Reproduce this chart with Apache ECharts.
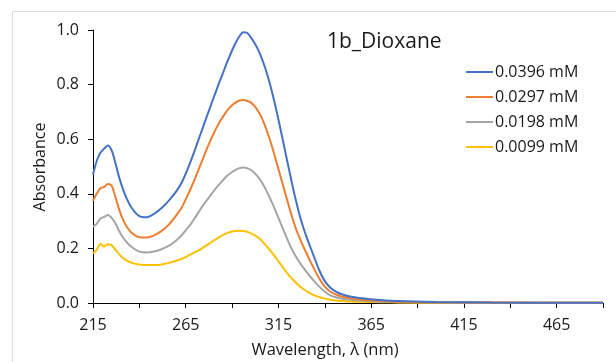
<!DOCTYPE html>
<html>
<head>
<meta charset="utf-8">
<script src="https://cdn.jsdelivr.net/npm/echarts@6/dist/echarts.min.js"></script>
<style>
html,body{margin:0;padding:0;background:#fff;}
#chart{width:616px;height:362px;}
</style>
</head>
<body>
<div id="chart"></div>
<script>
var chartTitle = '1b_Dioxane';
var xAxisName = 'Wavelength, \u03bb (nm)';
var yAxisName = 'Absorbance';
var seriesNames = ['0.0396 mM', '0.0297 mM', '0.0198 mM', '0.0099 mM'];

var wavelengths = [215,217,219,221,223,225,227,229,231,233,
  236,240,244,248,252,256,260,263,266,
  268,270,272,274,276,278,280,282,284,286,288,290,292,294,296,298,300,302,304,306,308,310,312,314,316,318,320,322,324,326,328,330,332,334,
  337,340,343,346,350,355,362,370,380,400,430,460,490];

var abs0396 = [0.47,0.52,0.55,0.565,0.577,0.56,0.515,0.463,0.42,0.385,
  0.347,0.318,0.314,0.327,0.348,0.376,0.41,0.443,0.49,
  0.525,0.562,0.6,0.638,0.676,0.714,0.751,0.788,0.824,0.859,0.893,0.925,0.954,0.977,0.992,0.99,0.974,0.953,0.928,0.896,0.858,0.812,0.76,0.702,0.64,0.576,0.511,0.448,0.387,0.332,0.285,0.245,0.208,0.173,
  0.12,0.08,0.056,0.042,0.03,0.022,0.016,0.011,0.007,0.004,0.002,0.001,0.001];
var abs0297 = [0.375,0.40,0.42,0.425,0.436,0.43,0.39,0.345,0.308,0.282,
  0.256,0.241,0.24,0.248,0.264,0.288,0.322,0.352,0.394,
  0.424,0.456,0.49,0.524,0.558,0.59,0.62,0.647,0.671,0.692,0.71,0.724,0.735,0.742,0.744,0.741,0.735,0.722,0.703,0.678,0.645,0.606,0.562,0.515,0.466,0.418,0.37,0.323,0.28,0.245,0.213,0.184,0.155,0.128,
  0.09,0.06,0.041,0.031,0.022,0.016,0.011,0.008,0.005,0.003,0.002,0.001,0.001];
var abs0198 = [0.28,0.29,0.31,0.315,0.322,0.312,0.293,0.265,0.242,0.224,
  0.204,0.188,0.185,0.189,0.197,0.21,0.23,0.25,0.275,
  0.292,0.312,0.333,0.354,0.373,0.391,0.409,0.426,0.442,0.457,0.47,0.48,0.488,0.494,0.496,0.494,0.488,0.477,0.462,0.442,0.418,0.39,0.36,0.328,0.295,0.262,0.23,0.2,0.175,0.153,0.133,0.115,0.098,0.082,
  0.06,0.041,0.028,0.021,0.015,0.011,0.008,0.005,0.003,0.002,0.001,0.001,0.001];
var abs0099 = [0.182,0.195,0.216,0.207,0.215,0.212,0.196,0.18,0.166,0.156,
  0.147,0.141,0.139,0.139,0.141,0.147,0.155,0.162,0.172,
  0.179,0.186,0.193,0.201,0.21,0.219,0.228,0.237,0.245,0.252,0.258,0.262,0.264,0.265,0.264,0.261,0.256,0.249,0.24,0.228,0.213,0.197,0.18,0.162,0.143,0.125,0.107,0.091,0.077,0.064,0.053,0.044,0.036,0.029,
  0.022,0.016,0.012,0.009,0.007,0.005,0.004,0.003,0.002,0.001,0.001,0.001,0.001];

var seriesValues = [abs0396, abs0297, abs0198, abs0099];
var colors = ['#4472C4', '#ED7D31', '#A5A5A5', '#FFC000'];
var FONT = '"Open Sans", sans-serif';
var TXT = '#1a1a1a';

function pairs(vals) {
  return wavelengths.map(function (w, i) { return [w, vals[i]]; });
}

var chart = echarts.init(document.getElementById('chart'), null, {renderer: 'canvas'});
chart.setOption({
  animation: false,
  backgroundColor: '#fff',
  title: {
    text: chartTitle,
    left: 322, top: 27,
    textStyle: {fontFamily: FONT, fontSize: 21, fontWeight: 'normal', color: TXT}
  },
  legend: {
    orient: 'vertical',
    left: 466, top: 64,
    padding: 0,
    icon: 'rect',
    itemWidth: 27, itemHeight: 2, itemGap: 9,
    textStyle: {fontFamily: FONT, fontSize: 16, lineHeight: 16, color: TXT, padding: [0,0,0,-3]},
    data: seriesNames
  },
  grid: {left: 93, right: 13, top: 30, bottom: 59, containLabel: false},
  xAxis: {
    type: 'value',
    min: 215, max: 490, interval: 25,
    axisLine: {lineStyle: {color: '#000', width: 1}},
    axisTick: {show: true, length: 5, lineStyle: {color: '#000'}},
    splitLine: {show: false},
    axisLabel: {
      margin: 14, fontFamily: FONT, fontSize: 16, color: TXT,
      formatter: function (v) { return ((v - 215) % 50 === 0 && v < 490) ? String(v) : ''; }
    }
  },
  yAxis: {
    type: 'value',
    min: 0, max: 1, interval: 0.2,
    axisLine: {show: true, lineStyle: {color: '#000', width: 1}},
    axisTick: {show: true, length: 5, lineStyle: {color: '#000'}},
    splitLine: {show: false},
    axisLabel: {
      margin: 14, fontFamily: FONT, fontSize: 16, color: TXT,
      formatter: function (v) { return v.toFixed(1); }
    }
  },
  graphic: [
    {type: 'rect', silent: true, z: -10, shape: {x: 12.5, y: 11.5, width: 640, height: 400},
     style: {fill: 'none', stroke: '#d9d9d9', lineWidth: 1}},
    {type: 'text', x: 40, y: 167, rotation: Math.PI / 2,
     style: {text: yAxisName, fontFamily: FONT, fontSize: 16, fill: TXT, textAlign: 'center', textVerticalAlign: 'middle'}},
    {type: 'text', x: 325, y: 350,
     style: {text: xAxisName, fontFamily: FONT, fontSize: 16.5, fill: TXT, textAlign: 'center', textVerticalAlign: 'middle'}}
  ],
  series: seriesNames.map(function (name, i) {
    return {
      name: name,
      type: 'line',
      data: pairs(seriesValues[i]),
      symbol: 'none',
      smooth: 0.3,
      color: colors[i],
      lineStyle: {color: colors[i], width: 2},
      z: 10 - i
    };
  })
});
</script>
</body>
</html>
